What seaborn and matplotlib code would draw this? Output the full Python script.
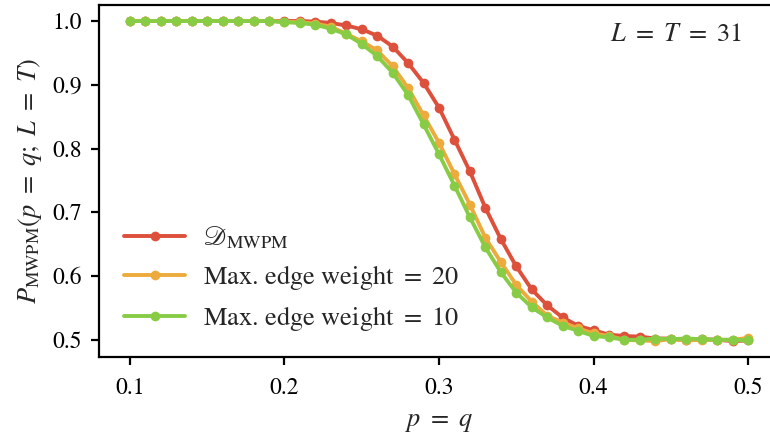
import numpy as np
import pandas as pd
import matplotlib
matplotlib.use("Agg")
import matplotlib.pyplot as plt
import seaborn as sns

# Error rate p = q sampled in steps of 0.01
p_values = [round(0.10 + 0.01 * i, 2) for i in range(41)]

# Success probability for each decoder
p_mwpm = [1.0, 1.0, 1.0, 1.0, 1.0, 1.0, 1.0, 1.0, 1.0, 1.0, 1.0, 1.0,
          0.999, 0.997, 0.993, 0.987, 0.977, 0.960, 0.934, 0.903, 0.864,
          0.814, 0.764, 0.707, 0.658, 0.615, 0.579, 0.554, 0.535, 0.522,
          0.515, 0.508, 0.506, 0.505, 0.502, 0.502, 0.499, 0.501, 0.500,
          0.498, 0.499]
p_max20 = [1.0, 1.0, 1.0, 1.0, 1.0, 1.0, 1.0, 1.0, 1.0, 1.0, 0.999, 0.998,
           0.996, 0.991, 0.980, 0.968, 0.954, 0.929, 0.895, 0.852, 0.809,
           0.760, 0.712, 0.660, 0.622, 0.586, 0.560, 0.538, 0.527, 0.518,
           0.510, 0.506, 0.500, 0.499, 0.498, 0.501, 0.499, 0.500, 0.500,
           0.500, 0.503]
p_max10 = [1.0, 1.0, 1.0, 1.0, 1.0, 1.0, 1.0, 1.0, 1.0, 1.0, 0.998, 0.997,
           0.994, 0.988, 0.979, 0.964, 0.945, 0.919, 0.884, 0.838, 0.791,
           0.742, 0.692, 0.645, 0.606, 0.574, 0.551, 0.535, 0.522, 0.514,
           0.506, 0.504, 0.500, 0.500, 0.502, 0.501, 0.502, 0.501, 0.500,
           0.500, 0.499]

series_labels = [r"$\mathscr{D}_{\mathrm{MWPM}}$",
                 r"Max. edge weight $=$ 20",
                 r"Max. edge weight $=$ 10"]
series_colors = ["#dc503c", "#ecab3c", "#88cc46"]

df = pd.concat([
    pd.DataFrame({"p": p_values, "P": vals, "decoder": lab})
    for vals, lab in zip([p_mwpm, p_max20, p_max10], series_labels)
], ignore_index=True)

sns.set_theme(style="ticks")
plt.rcParams.update({
    "font.family": ["STIXGeneral", "DejaVu Serif"],
    "mathtext.fontset": "stix",
    "axes.linewidth": 1.6,
    "xtick.major.width": 1.6,
    "ytick.major.width": 1.6,
    "xtick.major.size": 6,
    "ytick.major.size": 6,
    "xtick.major.pad": 9,
    "ytick.major.pad": 6,
    "xtick.labelsize": 17,
    "ytick.labelsize": 17,
    "axes.edgecolor": "black",
    "xtick.color": "black",
    "ytick.color": "black",
})

fig = plt.figure(figsize=(7.7, 4.36), dpi=100)
ax = fig.add_axes([0.1286, 0.181, 0.8831, 0.8075])

sns.lineplot(data=df, x="p", y="P", hue="decoder", palette=series_colors,
             hue_order=series_labels, marker="o", markersize=7,
             markeredgewidth=0, linewidth=2.8, ax=ax)

ax.set_xticks([0.1, 0.2, 0.3, 0.4, 0.5])
ax.set_yticks([0.5, 0.6, 0.7, 0.8, 0.9, 1.0])
ax.set_xlabel(r"$p\ =\ q$", fontsize=19, labelpad=8)
ax.set_ylabel(r"$P_{\mathrm{MWPM}}(p\ =\ q;\ L\ =\ T)$", fontsize=19, labelpad=6)
ax.spines["right"].set_visible(False)

ax.text(0.945, 0.95, r"$L\ =\ T\ =\ 31$", transform=ax.transAxes,
        ha="right", va="top", fontsize=19)

leg = ax.legend(loc="lower left", frameon=False, fontsize=19,
                handlelength=2.3, handletextpad=0.7, labelspacing=0.45,
                borderaxespad=0.3, bbox_to_anchor=(0.01, 0.015))

fig.savefig("out.png", dpi=100)
